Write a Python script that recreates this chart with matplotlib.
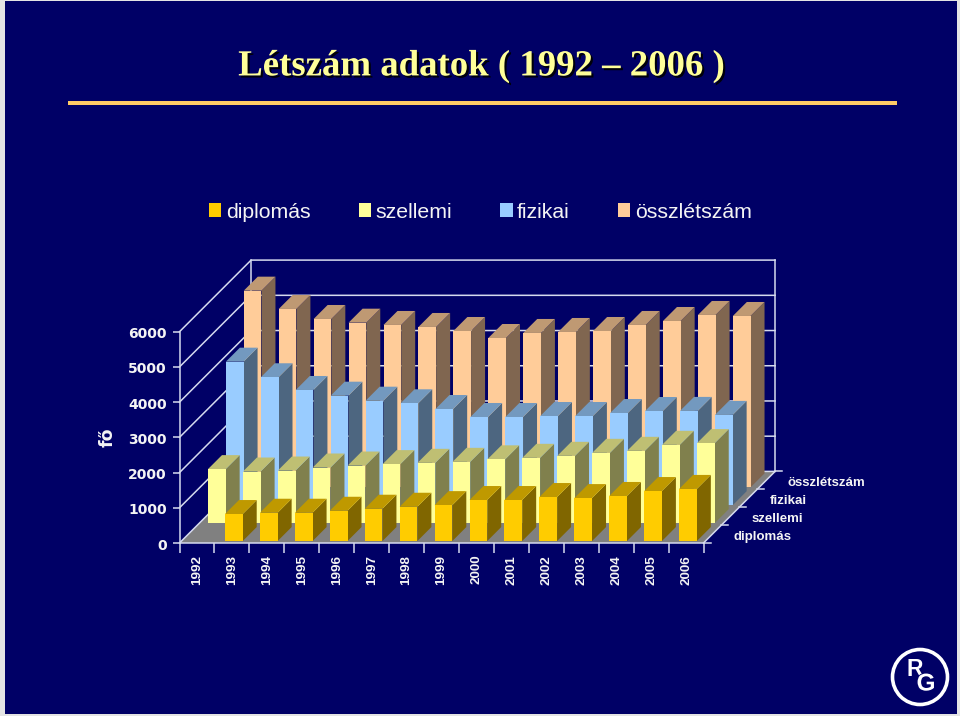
"""
Létszám adatok - oblique 3D column chart drawn on a flat axes
"""
import matplotlib
matplotlib.use('Agg')
import matplotlib.pyplot as plt
import matplotlib.patheffects as pe
from matplotlib.patches import Polygon, Rectangle, Circle, Patch
from matplotlib.transforms import ScaledTranslation

years = ['1992', '1993', '1994', '1995', '1996', '1997', '1998', '1999',
         '2000', '2001', '2002', '2003', '2004', '2005', '2006']
series_names = ['diplomás', 'szellemi', 'fizikai', 'összlétszám']

# no diplomás value for 1992
diplomas = [None, 767, 804, 804, 860, 918, 974, 1020, 1165, 1165, 1250, 1220, 1280, 1420, 1480]
szellemi = [1534, 1466, 1494, 1580, 1636, 1676, 1713, 1741, 1812, 1855, 1912, 1997, 2054, 2224, 2273]
fizikai = [4077, 3634, 3273, 3111, 2969, 2895, 2733, 2506, 2506, 2534, 2534, 2619, 2676, 2679, 2565]
osszletszam = [5585, 5065, 4781, 4676, 4611, 4554, 4440, 4241, 4384, 4412, 4440, 4611, 4724, 4895, 4866]
all_series = [diplomas, szellemi, fizikai, osszletszam]
y_ticks = [0, 1000, 2000, 3000, 4000, 5000, 6000]

# face, top, side
colors = [('#FFCC00', '#BF9900', '#806600'),
          ('#FFFF99', '#BFBF73', '#80804D'),
          ('#99CCFF', '#7399BF', '#4D6680'),
          ('#FFCC99', '#BF9973', '#806650')]

NAVY = '#000066'
LINE = '#D5DAEE'
TXT = '#F4F4F4'

# geometry in pixels
X0, X1 = 179.5, 703.5
Y0, Y6 = 543.0, 331.7
WALL = 71.6     # total depth shift of the back wall
SLOT = WALL / 4  # depth shift per series
BAR_W = 17.7
BAR_D = 14.0

fig = plt.figure(figsize=(9.6, 7.16), dpi=100, facecolor='#E4E4E4')

# page layer in pixel coordinates
bg = fig.add_axes([0, 0, 1, 1], zorder=0)
bg.set_xlim(0, 960)
bg.set_ylim(716, 0)
bg.axis('off')
bg.add_patch(Rectangle((5, 1), 952, 713, fc=NAVY, ec='none'))
bg.add_patch(Rectangle((68, 101), 829, 4, fc='#FFCC66', ec='none'))
bg.text(481.5, 66, 'Létszám adatok ( 1992 – 2006 )', ha='center', va='center',
        family='Liberation Serif', weight='bold', fontsize=26.5, color='#FFFF99',
        path_effects=[pe.withSimplePatchShadow(offset=(1.5, -1.5), shadow_rgbFace='#000000', alpha=0.9)])
bg.text(108, 437, 'fő', rotation=90, ha='center', va='center', family='DejaVu Sans',
        weight='bold', fontsize=12.5, color=TXT)

# logo
bg.add_patch(Circle((920, 677), 27.5, fc='none', ec='white', lw=2.6))
bg.text(914.5, 670, 'R', ha='center', va='center', family='Liberation Sans', weight='bold',
        fontsize=16.5, color='white')
bg.text(926, 684, 'G', ha='center', va='center', family='Liberation Sans', weight='bold',
        fontsize=17.5, color='white',
        path_effects=[pe.withStroke(linewidth=1.2, foreground=NAVY)])

# chart axes: the front plane of the box
ax = fig.add_axes([X0 / 960, (716 - Y0) / 716, (X1 - X0) / 960, (Y0 - Y6) / 716], zorder=1)
ax.set_xlim(0, len(years))
ax.set_ylim(0, 6000)
ax.patch.set_visible(False)

px_x = (X1 - X0) / len(years)    # pixels per category
px_y = (Y0 - Y6) / 6000.0        # pixels per unit


def shift(x, y, depth):
    # data position moved back by depth pixels (oblique projection)
    return x + depth / px_x, y + depth / px_y


def poly(pts, fc, ec='none', lw=0.0, z=1.0):
    ax.add_patch(Polygon(pts, closed=True, fc=fc, ec=ec, lw=lw, clip_on=False, zorder=z))


# floor
poly([shift(0, 0, 0), shift(len(years), 0, 0), shift(len(years), 0, WALL), shift(0, 0, WALL)],
     '#808080', z=1)

# wall lines
nx = len(years)
for v in y_ticks:
    pts = [shift(0, v, 0), shift(0, v, WALL), shift(nx, v, WALL)]
    ax.plot([p[0] for p in pts], [p[1] for p in pts], color=LINE, lw=1.1, clip_on=False, zorder=1.5)
for xv in (0, nx):
    a = shift(xv, 0, WALL)
    b = shift(xv, 6000, WALL)
    ax.plot([a[0], b[0]], [a[1], b[1]], color=LINE, lw=1.1, clip_on=False, zorder=1.5)
# right floor edge with the depth ticks
a = shift(nx, 0, 0)
b = shift(nx, 0, WALL)
ax.plot([a[0], b[0]], [a[1], b[1]], color=LINE, lw=1.1, clip_on=False, zorder=1.5)
for k in range(5):
    a = shift(nx, 0, k * SLOT)
    ax.plot([a[0], a[0] + 7 / px_x], [a[1], a[1]], color=LINE, lw=1.1, clip_on=False, zorder=1.5)

# columns, back row first
z = 2.0
for s in range(len(all_series) - 1, -1, -1):
    face, top, side = colors[s]
    d0 = s * SLOT + (SLOT - BAR_D) / 2
    for i in range(len(years) - 1, -1, -1):
        v = all_series[s][i]
        if v is None:
            continue
        x0 = i + (px_x - BAR_W) / 2 / px_x
        x1 = x0 + BAR_W / px_x
        z += 0.01
        poly([shift(x1, 0, d0), shift(x1, 0, d0 + BAR_D), shift(x1, v, d0 + BAR_D), shift(x1, v, d0)],
             side, z=z)
        poly([shift(x0, v, d0), shift(x1, v, d0), shift(x1, v, d0 + BAR_D), shift(x0, v, d0 + BAR_D)],
             top, z=z)
        poly([shift(x0, 0, d0), shift(x1, 0, d0), shift(x1, v, d0), shift(x0, v, d0)],
             face, z=z)

# axis styling
for name in ('top', 'right'):
    ax.spines[name].set_visible(False)
for name in ('left', 'bottom'):
    ax.spines[name].set_color(LINE)
    ax.spines[name].set_linewidth(1.1)
    ax.spines[name].set_zorder(1.6)
ax.set_yticks(y_ticks)
ax.set_yticklabels([str(v) for v in y_ticks], family='DejaVu Sans', weight='bold',
                   fontsize=10, color=TXT)
ax.tick_params(axis='y', color=LINE, length=5, width=1.1, pad=5)
# labels sit a pixel lower than the ticks
nudge = ScaledTranslation(1 / 100, -1 / 100, fig.dpi_scale_trans)
for lab in ax.get_yticklabels():
    lab.set_transform(lab.get_transform() + nudge)
ax.set_xticks(range(nx + 1))
ax.set_xticklabels([])
ax.tick_params(axis='x', which='major', color=LINE, length=7, width=1.1)
ax.set_xticks([i + 0.5 for i in range(nx)], minor=True)
ax.set_xticklabels(years, minor=True, rotation=90, family='Liberation Sans', weight='bold',
                   fontsize=9.6, color=TXT)
ax.tick_params(axis='x', which='minor', length=0, pad=8.5)

# depth axis labels
for s, name in enumerate(series_names):
    px, py = shift(nx, 0, s * SLOT + SLOT / 2)
    ax.annotate(name, (px, py), xytext=(21, -2.5), textcoords='offset pixels',
                ha='left', va='center', annotation_clip=False,
                family='Liberation Sans', weight='bold', fontsize=9.5, color=TXT)

# legend
handles = [Patch(fc=colors[s][0], ec='none') for s in range(4)]
leg = fig.legend(handles, series_names, ncol=4, frameon=False, loc='center',
                 bbox_to_anchor=(480.5 / 960, (716 - 212) / 716),
                 handlelength=0.57, handleheight=0.57, handletextpad=0.22, columnspacing=2.26,
                 prop={'family': 'Liberation Sans', 'size': 15.35})
for t in leg.get_texts():
    t.set_color(TXT)

fig.savefig('out.png', dpi=100, facecolor=fig.get_facecolor())
